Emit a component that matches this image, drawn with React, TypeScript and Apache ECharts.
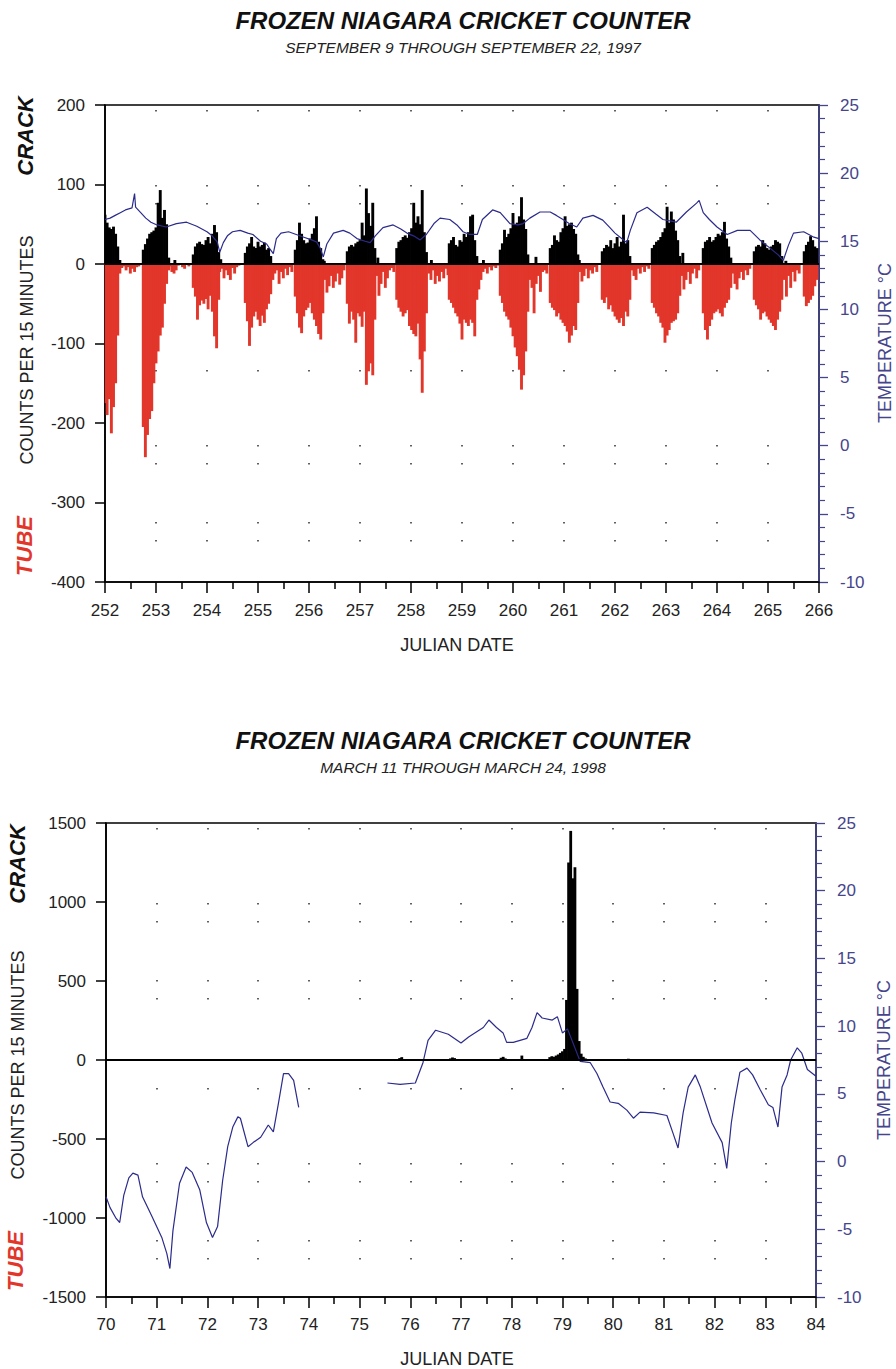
import React, { useEffect, useRef } from "react";
import * as echarts from "echarts";

// ---------- DATA ----------
// Hourly step inside each burst (fraction of a Julian day)
const STEP = 1 / 24;

// Panel 1: September 9 - 22, 1997 (Julian 252 - 266)
const xTicksTop = [252, 266];
// CRACK counts per 15 min: [burst start day, hourly counts]
const crackTop: [number, number[]][] = [
  [252.0, [62, 52, 46, 44, 47, 38, 22, 5]],
  [252.75, [18, 25, 32, 38, 40, 42, 46, 77, 93, 58, 68, 50, 8]],
  [253.73, [12, 22, 26, 28, 25, 24, 30, 34, 26, 38, 49, 40, 15]],
  [254.75, [14, 22, 26, 34, 22, 20, 28, 22, 24, 27, 18, 20, 10]],
  [255.73, [18, 30, 52, 38, 30, 26, 27, 32, 38, 45, 60, 28, 20, 6]],
  [256.75, [16, 22, 24, 22, 26, 28, 30, 52, 36, 95, 64, 48, 77, 20]],
  [257.72, [20, 28, 30, 34, 36, 33, 40, 45, 77, 52, 60, 50, 93, 40, 15]],
  [258.75, [26, 30, 34, 24, 22, 30, 28, 38, 34, 40, 60, 62, 30, 10]],
  [259.75, [18, 26, 43, 34, 38, 45, 64, 50, 52, 60, 84, 56, 44, 12]],
  [260.73, [20, 24, 36, 30, 28, 40, 45, 60, 48, 50, 52, 44, 38, 12]],
  [261.75, [16, 20, 24, 22, 30, 20, 26, 34, 22, 28, 62, 26, 30, 10]],
  [262.73, [20, 24, 28, 30, 34, 40, 45, 72, 52, 66, 56, 42, 30, 10]],
  [263.73, [20, 28, 30, 34, 28, 30, 34, 38, 36, 40, 53, 32, 22, 8]],
  [264.73, [16, 22, 24, 22, 30, 26, 20, 18, 22, 24, 30, 28, 26, 10]],
  [265.71, [16, 24, 28, 35, 30, 22, 20]],
];
const crackTopBlips: [number, number][] = [
  [253.37, 5], [254.27, 6], [256.3, 4], [257.35, 8], [258.4, 5],
  [259.42, 5], [260.45, 9], [261.3, 5], [263.33, 14], [265.35, 4],
];
// TUBE counts per 15 min (negative)
const tubeTop: [number, number[]][] = [
  [252.0, [-175, -190, -170, -213, -180, -150, -90, -12]],
  [252.33, [-5, -3, -8, -4, -12, -6, -10, -4, -3]],
  [252.75, [-205, -243, -215, -195, -185, -150, -125, -110, -90, -80, -50, -25, -8]],
  [253.27, [-3, -10, -12, -8, -2, 0, -4, -6, 0, -3]],
  [253.73, [-30, -41, -70, -52, -46, -50, -44, -57, -40, -60, -91, -106, -45]],
  [254.25, [-10, -6, -18, -8, -14, -20, -5, -12, -4, -2]],
  [254.75, [-49, -72, -103, -80, -66, -60, -70, -78, -65, -74, -57, -50, -38, -20]],
  [255.33, [-12, -8, -25, -10, -18, -6, -14, -4, -10]],
  [255.73, [-41, -62, -80, -87, -66, -58, -55, -49, -62, -70, -78, -88, -95, -62]],
  [256.31, [-20, -36, -28, -15, -30, -22, -12, -26, -18, -8]],
  [256.75, [-50, -75, -60, -70, -99, -62, -66, -79, -60, -152, -135, -125, -140, -70]],
  [257.33, [-15, -40, -25, -10, -30, -18, -8, -5, -10]],
  [257.72, [-45, -55, -60, -66, -62, -58, -78, -83, -88, -91, -75, -120, -162, -110, -62]],
  [258.35, [-12, -20, -8, -25, -15, -22, -10, -18, -6, -14]],
  [258.75, [-45, -49, -55, -62, -66, -75, -95, -70, -74, -78, -70, -74, -91, -45]],
  [259.33, [-32, -20, -10, -6, -12, -4, -8, -3, -5, -2]],
  [259.75, [-40, -49, -60, -66, -70, -80, -91, -105, -116, -133, -158, -140, -110, -60]],
  [260.33, [-20, -30, -62, -25, -15, -35, -10, -8, -12]],
  [260.73, [-49, -55, -58, -66, -62, -70, -74, -78, -85, -99, -90, -78, -83, -49]],
  [261.31, [-10, -22, -15, -6, -18, -8, -12, -4, -10]],
  [261.75, [-45, -49, -42, -57, -52, -60, -66, -70, -74, -68, -78, -60, -66, -45]],
  [262.33, [-8, -15, -20, -6, -12, -4, -10, -3, -6]],
  [262.73, [-49, -55, -62, -66, -74, -80, -99, -90, -83, -74, -72, -70, -62, -40]],
  [263.31, [-15, -32, -20, -10, -25, -12, -6, -18, -8]],
  [263.73, [-62, -83, -95, -78, -70, -62, -60, -57, -62, -66, -55, -49, -45, -30]],
  [264.31, [-12, -25, -32, -18, -10, -20, -8, -14, -6]],
  [264.73, [-45, -52, -57, -70, -62, -60, -66, -70, -74, -78, -83, -70, -60, -45]],
  [265.32, [-20, -41, -15, -30, -10, -22, -8, -12]],
  [265.71, [-41, -53, -49, -45, -40, -28, -20]],
];
// Temperature (deg C): [Julian day, value]
const tempTop: [number, number][] = [
  [252.0, 16.6], [252.1, 16.7], [252.2, 16.9], [252.3, 17.1], [252.4, 17.3], [252.53, 17.45],
  [252.58, 18.5], [252.6, 17.5], [252.7, 17.1], [252.8, 16.7], [252.9, 16.4], [253.02, 16.2],
  [253.2, 16.05], [253.4, 16.3], [253.6, 16.4], [253.8, 16.1], [254.0, 15.7], [254.1, 15.4],
  [254.2, 14.95], [254.25, 14.2], [254.32, 14.9], [254.4, 15.4], [254.5, 15.7], [254.65, 15.8],
  [254.8, 15.6], [254.9, 15.5], [255.05, 15.0], [255.17, 14.8], [255.24, 14.4], [255.3, 14.1],
  [255.36, 15.2], [255.45, 15.6], [255.6, 15.7], [255.75, 15.5], [255.9, 15.3], [256.05, 15.1],
  [256.15, 14.95], [256.22, 14.5], [256.28, 13.85], [256.35, 14.8], [256.48, 15.6], [256.67, 15.8],
  [256.8, 15.6], [256.94, 15.2], [257.1, 15.0], [257.2, 14.9], [257.3, 15.4], [257.45, 16.0],
  [257.65, 16.2], [257.8, 15.9], [257.92, 15.6], [258.05, 15.4], [258.18, 15.1], [258.3, 15.5],
  [258.45, 16.3], [258.57, 16.7], [258.76, 16.6], [258.9, 16.2], [259.02, 15.7], [259.15, 15.5],
  [259.3, 15.5], [259.4, 16.6], [259.6, 17.3], [259.75, 17.1], [259.94, 16.3], [260.1, 16.2],
  [260.2, 16.3], [260.33, 16.7], [260.53, 17.15], [260.73, 17.15], [260.85, 16.9], [260.98, 16.6],
  [261.1, 16.3], [261.25, 16.05], [261.37, 16.7], [261.57, 16.9], [261.76, 16.55], [261.9, 16.0],
  [262.0, 15.6], [262.1, 15.3], [262.23, 14.9], [262.3, 15.8], [262.43, 17.1], [262.63, 17.5],
  [262.8, 17.0], [262.94, 16.6], [263.2, 16.4], [263.4, 17.15], [263.6, 17.8], [263.65, 18.0],
  [263.73, 17.1], [263.85, 16.6], [264.0, 16.05], [264.2, 15.5], [264.4, 15.8], [264.65, 15.8],
  [264.84, 15.1], [265.04, 14.5], [265.2, 14.0], [265.3, 13.6], [265.4, 14.7], [265.5, 15.6],
  [265.7, 15.7], [265.9, 15.3], [266.0, 15.2],
];

// Panel 2: March 11 - 24, 1998 (Julian 70 - 84)
const xTicksBottom = [70, 84];
const crackBottom: [number, number[]][] = [
  [75.79, [12, 18]],
  [76.79, [10, 16, 12]],
  [77.79, [14, 20, 10]],
  [78.2, [28]],
  [78.75, [18, 24, 20, 28, 35, 45, 55, 70]],
  [79.08, [380, 1250, 1450, 1150, 1220, 450, 120]],
  [79.37, [40, 20, 10]],
  [79.9, [6]],
  [80.3, [8]],
  [81.05, [6]],
];
const tubeBottom: [number, number[]][] = [];
const tempBottom: [number, number | null][] = [
  [70.0, -2.6], [70.08, -3.4], [70.2, -4.2], [70.27, -4.5], [70.35, -2.5], [70.45, -1.2],
  [70.53, -0.85], [70.63, -1.0], [70.72, -2.6], [70.9, -4.0], [71.1, -5.6], [71.2, -6.8],
  [71.26, -7.9], [71.32, -5.1], [71.45, -1.6], [71.58, -0.4], [71.7, -0.8], [71.85, -2.1],
  [71.98, -4.5], [72.1, -5.6], [72.2, -4.8], [72.3, -1.4], [72.4, 1.1], [72.5, 2.55],
  [72.6, 3.3], [72.65, 3.2], [72.8, 1.1], [72.9, 1.4], [73.05, 1.8], [73.2, 2.7],
  [73.3, 2.2], [73.4, 4.3], [73.5, 6.5], [73.6, 6.5], [73.7, 6.0], [73.8, 4.0],
  [74.6, null],
  [75.55, 5.8], [75.8, 5.7], [76.1, 5.8], [76.25, 7.3], [76.35, 8.95], [76.5, 9.7],
  [76.75, 9.4], [77.0, 8.75], [77.15, 9.2], [77.44, 9.9], [77.55, 10.45], [77.7, 9.9],
  [77.83, 9.5], [77.9, 8.8], [78.03, 8.8], [78.3, 9.1], [78.4, 9.9], [78.5, 11.0],
  [78.6, 10.6], [78.8, 10.45], [78.9, 10.7], [79.0, 9.5], [79.1, 9.8], [79.35, 7.4],
  [79.55, 7.3], [79.68, 6.5], [79.8, 5.5], [79.94, 4.4], [80.1, 4.3], [80.27, 3.8],
  [80.4, 3.2], [80.53, 3.65], [80.8, 3.6], [81.06, 3.4], [81.18, 2.1], [81.28, 1.0],
  [81.38, 3.6], [81.48, 5.5], [81.62, 6.4], [81.72, 5.5], [81.95, 2.85], [82.15, 1.4],
  [82.24, -0.5], [82.33, 2.85], [82.4, 4.55], [82.5, 6.6], [82.64, 6.9], [82.75, 6.4],
  [82.9, 5.3], [83.06, 4.2], [83.15, 4.0], [83.25, 2.55], [83.33, 5.5], [83.43, 6.4],
  [83.5, 7.5], [83.63, 8.4], [83.72, 8.0], [83.83, 6.8], [84.0, 6.3],
];

const countRangeTop = [-400, 200, 100];
const countRangeBottom = [-1500, 1500, 500];
const tempRange = [-10, 25, 5];

// ---------- STYLE ----------
const FONT = '"Liberation Sans", Arial, Helvetica, sans-serif';
const AX_BLUE = "#45458c";
const LINE_BLUE = "#2b2b8c";
const RED = "#e2362b";
const DOTS = [1.5, 73.5, 1.5, 16.5, 1.5, 57.5, 1.5, 16.5, 1.5, 88.5];

function expand(bursts: [number, number[]][]): [number, number][] {
  const out: [number, number][] = [];
  bursts.forEach(([start, vals]) =>
    vals.forEach((v, i) => out.push([+(start + i * STEP).toFixed(4), v]))
  );
  return out;
}

const numFmt = (v: number) => String(v);

function xAxisCfg(gridIndex: number, range: number[], margin: number) {
  return {
    type: "value",
    gridIndex,
    min: range[0],
    max: range[1],
    interval: 1,
    axisLine: { show: true, onZero: false, lineStyle: { color: "#000", width: 1.6 } },
    axisTick: { show: true, inside: false, length: 11, lineStyle: { color: "#000", width: 1.5 } },
    minorTick: { show: true, splitNumber: 2, length: 7, lineStyle: { color: "#000", width: 1.5 } },
    axisLabel: { fontSize: 17, color: "#222", fontFamily: FONT, margin, formatter: numFmt },
    splitLine: { show: true, lineStyle: { color: "#3a3a3a", width: 1.6, type: DOTS, dashOffset: -5 } },
    minorSplitLine: { show: false },
  };
}

function yLeftCfg(gridIndex: number, r: number[]) {
  return {
    type: "value",
    gridIndex,
    position: "left",
    min: r[0],
    max: r[1],
    interval: r[2],
    axisLine: { show: true, onZero: false, lineStyle: { color: "#000", width: 1.6 } },
    axisTick: { show: true, inside: false, length: 10, lineStyle: { color: "#000", width: 1.5 } },
    axisLabel: { fontSize: 17, color: "#222", fontFamily: FONT, margin: 20, formatter: numFmt },
    splitLine: { show: false },
  };
}

function yRightCfg(gridIndex: number) {
  return {
    type: "value",
    gridIndex,
    position: "right",
    min: tempRange[0],
    max: tempRange[1],
    interval: tempRange[2],
    axisLine: { show: true, onZero: false, lineStyle: { color: AX_BLUE, width: 1.6 } },
    axisTick: { show: true, inside: false, length: 9, lineStyle: { color: AX_BLUE, width: 1.3 } },
    minorTick: { show: true, splitNumber: 5, length: 6, lineStyle: { color: AX_BLUE, width: 1.2 } },
    axisLabel: { fontSize: 17, color: AX_BLUE, fontFamily: FONT, margin: 21, formatter: numFmt },
    splitLine: { show: false },
  };
}

const zeroLine = {
  silent: true,
  symbol: ["none", "none"],
  label: { show: false },
  lineStyle: { color: "#000", width: 2, type: "solid" },
  data: [{ yAxis: 0 }],
};

function txt(x: number, y: number, text: string, font: string, fill: string, rotation = 0) {
  return {
    type: "text",
    x,
    y,
    rotation,
    silent: true,
    style: {
      text,
      font,
      fill,
      align: "center",
      verticalAlign: "middle",
      textAlign: "center",
      textVerticalAlign: "middle",
    },
  };
}

const TITLE_FONT = `italic bold 24px ${FONT}`;
const SUB_FONT = `italic 15.5px ${FONT}`;
const SIDE_FONT = `italic bold 22px ${FONT}`;
const AXNAME_FONT = `18px ${FONT}`;
const R90 = Math.PI / 2;

function buildOption() {
  return {
    animation: false,
    backgroundColor: "#fff",
    grid: [
      { left: 105, top: 105, width: 714, height: 477, show: true, borderColor: "#000", borderWidth: 1.6, backgroundColor: "transparent" },
      { left: 106, top: 823, width: 710, height: 474, show: true, borderColor: "#000", borderWidth: 1.6, backgroundColor: "transparent" },
    ],
    xAxis: [xAxisCfg(0, xTicksTop, 20), xAxisCfg(1, xTicksBottom, 19)],
    yAxis: [yLeftCfg(0, countRangeTop), yRightCfg(0), yLeftCfg(1, countRangeBottom), yRightCfg(1)],
    series: [
      {
        name: "crack-top",
        type: "bar",
        xAxisIndex: 0,
        yAxisIndex: 0,
        barWidth: 2.9,
        barGap: "-100%",
        itemStyle: { color: "#000" },
        data: expand(crackTop).concat(crackTopBlips),
        markLine: zeroLine,
      },
      {
        name: "tube-top",
        type: "bar",
        xAxisIndex: 0,
        yAxisIndex: 0,
        barWidth: 2.9,
        barGap: "-100%",
        itemStyle: { color: RED },
        data: expand(tubeTop),
      },
      {
        name: "temp-top",
        type: "line",
        xAxisIndex: 0,
        yAxisIndex: 1,
        showSymbol: false,
        symbol: "none",
        lineStyle: { color: LINE_BLUE, width: 1.2 },
        data: tempTop,
      },
      {
        name: "crack-bottom",
        type: "bar",
        xAxisIndex: 1,
        yAxisIndex: 2,
        barWidth: 2.8,
        barGap: "-100%",
        itemStyle: { color: "#000" },
        data: expand(crackBottom),
        markLine: zeroLine,
      },
      {
        name: "tube-bottom",
        type: "bar",
        xAxisIndex: 1,
        yAxisIndex: 2,
        barWidth: 2.8,
        barGap: "-100%",
        itemStyle: { color: RED },
        data: expand(tubeBottom),
      },
      {
        name: "temp-bottom",
        type: "line",
        xAxisIndex: 1,
        yAxisIndex: 3,
        showSymbol: false,
        symbol: "none",
        connectNulls: false,
        lineStyle: { color: LINE_BLUE, width: 1.2 },
        data: tempBottom,
      },
    ],
    graphic: [
      txt(463, 20, "FROZEN NIAGARA CRICKET COUNTER", TITLE_FONT, "#111"),
      txt(463, 47, "SEPTEMBER 9 THROUGH SEPTEMBER 22, 1997", SUB_FONT, "#222"),
      txt(25, 136, "CRACK", SIDE_FONT, "#111", R90),
      txt(24, 546, "TUBE", SIDE_FONT, RED, R90),
      txt(27, 350, "COUNTS PER 15 MINUTES", AXNAME_FONT, "#222", R90),
      txt(885, 343, "TEMPERATURE °C", AXNAME_FONT, AX_BLUE, R90),
      txt(457, 645, "JULIAN DATE", AXNAME_FONT, "#222"),

      txt(463, 740, "FROZEN NIAGARA CRICKET COUNTER", TITLE_FONT, "#111"),
      txt(463, 767, "MARCH 11 THROUGH MARCH 24, 1998", SUB_FONT, "#222"),
      txt(17, 864, "CRACK", SIDE_FONT, "#111", R90),
      txt(15, 1261, "TUBE", SIDE_FONT, RED, R90),
      txt(18, 1065, "COUNTS PER 15 MINUTES", AXNAME_FONT, "#222", R90),
      txt(884, 1060, "TEMPERATURE °C", AXNAME_FONT, AX_BLUE, R90),
      txt(457, 1359, "JULIAN DATE", AXNAME_FONT, "#222"),
    ],
  };
}

export default function App() {
  const ref = useRef<HTMLDivElement>(null);
  useEffect(() => {
    document.body.style.margin = "0";
    const chart = echarts.init(ref.current as HTMLDivElement, undefined, { renderer: "svg" });
    chart.setOption(buildOption() as any);
    return () => chart.dispose();
  }, []);
  return <div ref={ref} style={{ width: 896, height: 1369 }} />;
}
